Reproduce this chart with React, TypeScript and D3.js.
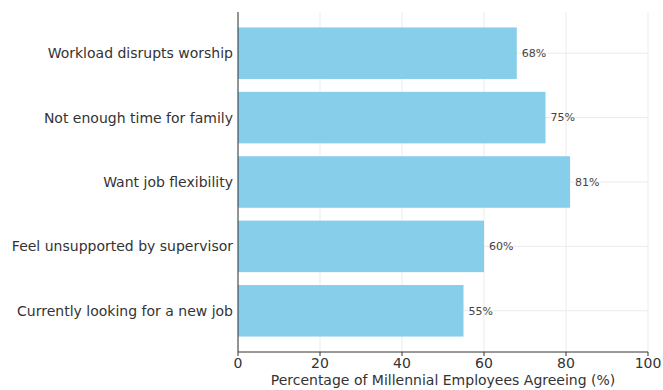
import React from "react";
import * as d3 from "d3";

const categories = [
  "Workload disrupts worship",
  "Not enough time for family",
  "Want job flexibility",
  "Feel unsupported by supervisor",
  "Currently looking for a new job",
];
const values = [68, 75, 81, 60, 55];
const xTicks = [0, 20, 40, 60, 80, 100];
const xLabel = "Percentage of Millennial Employees Agreeing (%)";

const W = 663;
const H = 390;
const left = 238;
const right = 648;
const top = 12;
const bottom = 352;
const font = "'DejaVu Sans', sans-serif";

export default function App() {
  const x = d3.scaleLinear().domain([0, 100]).range([left, right]);
  const y = d3
    .scaleBand<string>()
    .domain(categories)
    .range([top, bottom])
    .paddingInner(0.2)
    .paddingOuter(0.24);
  const bw = y.bandwidth();
  return (
    <svg
      width={W}
      height={H}
      style={{ position: "absolute", left: 0, top: 0, background: "#fff" }}
    >
      {/* grid */}
      {xTicks.map((t) => (
        <line key={"gx" + t} x1={x(t)} x2={x(t)} y1={top} y2={bottom} stroke="#ebebeb" strokeWidth={1} />
      ))}
      {categories.map((c) => (
        <line
          key={"gy" + c}
          x1={left}
          x2={right}
          y1={(y(c) as number) + bw / 2}
          y2={(y(c) as number) + bw / 2}
          stroke="#ebebeb"
          strokeWidth={1}
        />
      ))}
      {/* bars */}
      {categories.map((c, i) => (
        <rect
          key={"b" + c}
          x={x(0)}
          y={y(c) as number}
          width={x(values[i]) - x(0)}
          height={bw}
          fill="#87CEEB"
        />
      ))}
      {/* value labels */}
      {categories.map((c, i) => (
        <text
          key={"v" + c}
          x={x(values[i]) + 5}
          y={(y(c) as number) + bw / 2}
          dy="0.35em"
          fontFamily={font}
          fontSize={11}
          fill="#444"
        >
          {values[i]}%
        </text>
      ))}
      {/* category labels */}
      {categories.map((c) => (
        <text
          key={"l" + c}
          x={left - 5}
          y={(y(c) as number) + bw / 2}
          dy="0.35em"
          textAnchor="end"
          fontFamily={font}
          fontSize={14}
          fill="#333"
        >
          {c}
        </text>
      ))}
      {/* spines */}
      <line x1={left} x2={left} y1={top} y2={bottom} stroke="#333" strokeWidth={1} />
      <line x1={left} x2={right} y1={bottom} y2={bottom} stroke="#333" strokeWidth={1} />
      {/* x ticks */}
      {xTicks.map((t) => (
        <g key={"t" + t}>
          <line x1={x(t)} x2={x(t)} y1={bottom} y2={bottom + 4} stroke="#333" strokeWidth={1} />
          <text
            x={x(t)}
            y={bottom + 6}
            dy="0.71em"
            textAnchor="middle"
            fontFamily={font}
            fontSize={14}
            fill="#333"
          >
            {t}
          </text>
        </g>
      ))}
      <text
        x={(left + right) / 2}
        y={bottom + 33}
        textAnchor="middle"
        fontFamily={font}
        fontSize={14}
        fill="#333"
      >
        {xLabel}
      </text>
    </svg>
  );
}
